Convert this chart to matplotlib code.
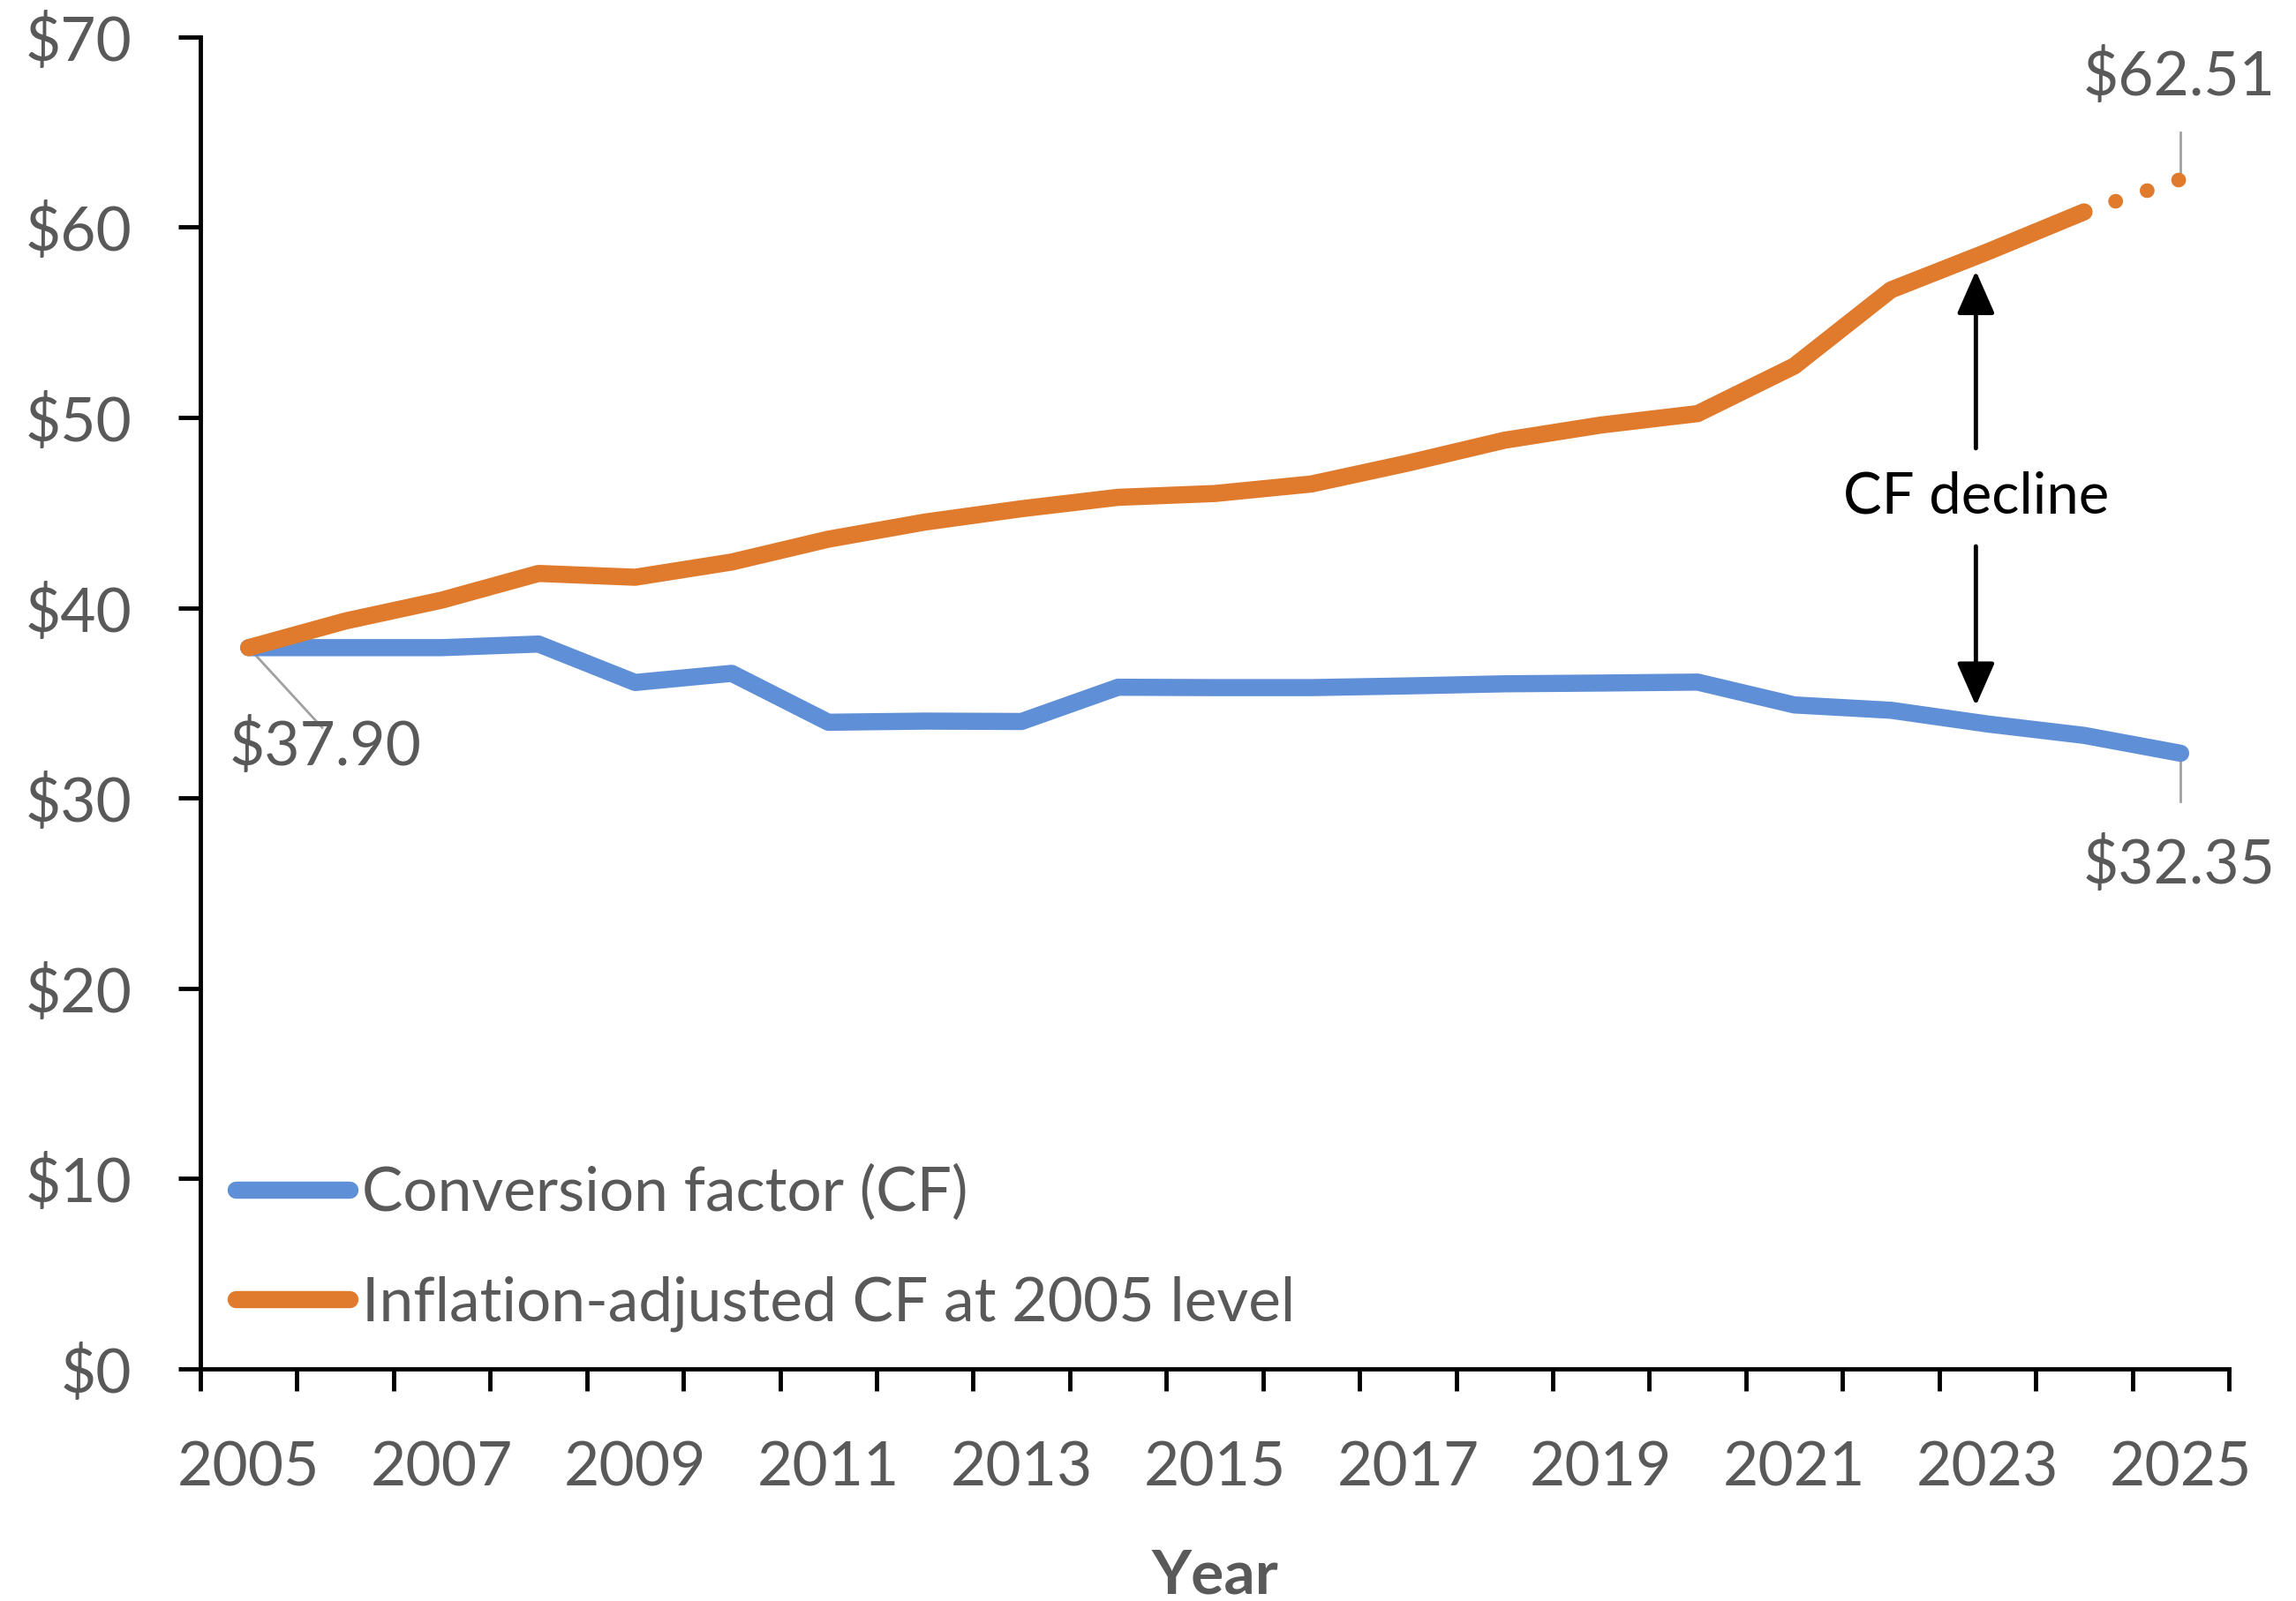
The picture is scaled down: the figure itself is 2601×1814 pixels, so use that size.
import matplotlib.pyplot as plt
import numpy as np

years = list(range(2005, 2026))
cf = [37.90, 37.90, 37.90, 38.09, 36.07, 36.55, 33.98, 34.04, 34.02, 35.82,
      35.80, 35.80, 35.89, 36.00, 36.04, 36.09, 34.89, 34.61, 33.89, 33.29, 32.35]
cf_infl = [37.90, 39.30, 40.40, 41.80, 41.60, 42.40, 43.60, 44.50, 45.20, 45.80,
           46.00, 46.50, 47.60, 48.80, 49.60, 50.20, 52.70, 56.70, 58.70, 60.80, 62.51]
year_labels = [str(y) if (y - 2005) % 2 == 0 else "" for y in years]

blue = "#5F8FD6"
orange = "#E07A2C"
gray_txt = "#595959"

plt.rcParams['font.family'] = ['Lato', 'DejaVu Sans']

fig = plt.figure(figsize=(26.01, 18.14), dpi=100)
ax = fig.add_axes([0.0873, 0.145, 0.8835, 0.832])

x = np.arange(len(years))
ax.plot(x, cf, color=blue, lw=14, solid_joinstyle='round', solid_capstyle='round',
        label="Conversion factor (CF)", zorder=3)
# solid part up to 2024, dotted projection to 2025
ax.plot(x[:-1], cf_infl[:-1], color=orange, lw=14, solid_joinstyle='round',
        solid_capstyle='round', label="Inflation-adjusted CF at 2005 level", zorder=4)
ax.plot(x[-2:], cf_infl[-2:], color=orange, lw=12, linestyle=(0, (0.01, 2.25)),
        dash_capstyle='round', zorder=4)

ax.set_xlim(-0.5, len(years) - 0.5)
ax.set_ylim(0, 70)
ax.set_yticks(range(0, 71, 10))
ax.set_yticklabels([f"${v}" for v in range(0, 71, 10)])

ax.set_xticks(np.arange(-0.5, len(years), 1.0))
ax.set_xticklabels([])
ax.set_xticks(x, minor=True)
ax.set_xticklabels(year_labels, minor=True)

for s in ['top', 'right']:
    ax.spines[s].set_visible(False)
for s in ['left', 'bottom']:
    ax.spines[s].set_linewidth(3.5)
    ax.spines[s].set_color('black')

ax.tick_params(axis='both', which='major', length=18, width=3.5, color='black',
               labelsize=50, labelcolor=gray_txt, direction='out')
ax.tick_params(axis='y', pad=38)
ax.tick_params(axis='x', which='minor', length=0, labelsize=50, labelcolor=gray_txt, pad=59)

ax.set_xlabel("Year", fontsize=50, fontweight='bold', color=gray_txt, labelpad=42)

# value labels with leader lines
lead = "#A0A0A0"
ax.plot([0, 0.76], [cf[0], 33.7], color=lead, lw=2, zorder=2)
ax.text(0.79, 32.7, f"${cf[0]:.2f}", fontsize=50, color=gray_txt, ha='center', va='center')
ax.plot([20, 20], [cf[-1], 29.8], color=lead, lw=2, zorder=2)
ax.text(19.98, 26.5, f"${cf[-1]:.2f}", fontsize=50, color=gray_txt, ha='center', va='center')
ax.plot([20, 20], [cf_infl[-1], 65.0], color=lead, lw=2, zorder=2)
ax.text(19.98, 67.9, f"${cf_infl[-1]:.2f}", fontsize=50, color=gray_txt, ha='center',
        va='center', clip_on=False)

# CF decline double arrow
ax.annotate("", xy=(17.88, 57.7), xytext=(17.88, 45.8),
            arrowprops=dict(arrowstyle='-|>,head_length=0.5,head_width=0.22',
                            mutation_scale=60, color='black', lw=3.5, shrinkA=40, shrinkB=0))
ax.annotate("", xy=(17.88, 34.85), xytext=(17.88, 45.8),
            arrowprops=dict(arrowstyle='-|>,head_length=0.5,head_width=0.22',
                            mutation_scale=60, color='black', lw=3.5, shrinkA=40, shrinkB=0))
ax.text(17.88, 45.8, "CF decline", fontsize=47, color='black', ha='center', va='center')

leg = ax.legend(loc='lower left', bbox_to_anchor=(0.0175, 0.028), frameon=False,
                fontsize=50, handlelength=1.85, handletextpad=0.2, labelspacing=0.88,
                borderpad=0, borderaxespad=0)
for t in leg.get_texts():
    t.set_color(gray_txt)

fig.savefig("out.png", dpi=100)
